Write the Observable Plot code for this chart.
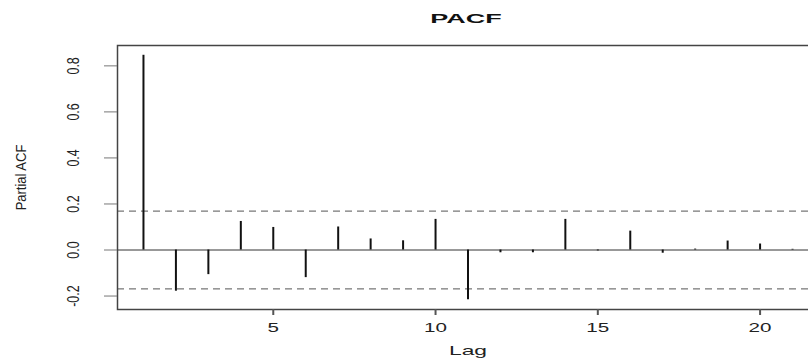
<!DOCTYPE html>
<html><head><meta charset="utf-8">
<script src="https://cdn.jsdelivr.net/npm/d3@7"></script>
<script src="https://cdn.jsdelivr.net/npm/@observablehq/plot@0.6"></script>
<style>
html,body{margin:0;padding:0;background:#fff;overflow:hidden;font-family:"Liberation Sans",Arial,sans-serif;}
#title{height:36px;box-sizing:border-box;padding-top:13px;padding-left:124px;text-align:center;font-size:12px;line-height:12px;font-weight:bold;color:#111;}
#title span{display:inline-block;transform:scaleX(2.25);}
</style></head><body>
<div id="title"><span>PACF</span></div>
<div id="chart"></div>
<script>
const lags = [1,2,3,4,5,6,7,8,9,10,11,12,13,14,15,16,17,18,19,20,21];
const pacfValues = [0.846,-0.179,-0.107,0.124,0.098,-0.120,0.100,0.048,0.040,0.133,-0.216,-0.012,-0.012,0.133,-0.004,0.082,-0.014,0.004,0.039,0.026,0.003];
const ciLimit = 0.169;
const ciLines = [ciLimit, -ciLimit];
const xTicks = [5,10,15,20];
const yTicks = [-0.2,0,0.2,0.4,0.6,0.8];
const xDomain = [0.2, 21.8];
const yDomain = [-0.2585, 0.8885];
const xLabel = "Lag";
const yLabel = "Partial ACF";

const data = lags.map((lag,i)=>({lag, value: pacfValues[i]}));
const font = '"Liberation Sans", Arial, sans-serif';
const plot = Plot.plot({
  width: 808, height: 324,
  marginTop: 9, marginBottom: 51, marginLeft: 117, marginRight: -10,
  style: {fontFamily: font, fontSize: "12px", color: "#222", background: "#fff", overflow: "hidden"},
  x: {domain: xDomain},
  y: {domain: yDomain},
  marks: [
    Plot.ruleY(ciLines, {stroke: "#555", strokeDasharray: "7,5", strokeWidth: 1}),
    Plot.ruleY([0], {stroke: "#333", strokeWidth: 1}),
    Plot.ruleX(data, {x: "lag", y1: 0, y2: "value", stroke: "#111", strokeWidth: 2}),
    Plot.frame({stroke: "#444", strokeWidth: 1.5}),
    Plot.axisX({ticks: xTicks, tickSize: 6, tickPadding: 8, strokeWidth: 2, stroke: "#555",
      label: xLabel, labelAnchor: "center", labelOffset: 45, labelArrow: "none", fontSize: 12}),
    Plot.axisY({ticks: yTicks, tickSize: 13, tickRotate: -90, tickPadding: 26, stroke: "#777",
      tickFormat: d => d.toFixed(1), fontSize: 12,
      label: yLabel, labelAnchor: "center", labelOffset: 102, labelArrow: "none"})
  ]
});
function stretchText(sel, sx, sy, size) {
  plot.querySelectorAll(sel).forEach(t => {
    const tr = t.getAttribute("transform") || "";
    t.setAttribute("transform", tr + ` scale(${sx},${sy})`);
    if (size) t.style.fontSize = size + "px";
    t.textContent = t.textContent.replace(/[\u2190-\u2193]/g, "").trim();
  });
}
stretchText('g[aria-label="x-axis tick label"] text', 1.65, 1, 12.5);
stretchText('g[aria-label="x-axis label"] text', 1.9, 1, 12);
stretchText('g[aria-label="y-axis tick label"] text', 1, 1.3, 12.5);
stretchText('g[aria-label="y-axis label"] text', 1, 1.1, 13);
document.getElementById("chart").appendChild(plot);
</script>
</body></html>
